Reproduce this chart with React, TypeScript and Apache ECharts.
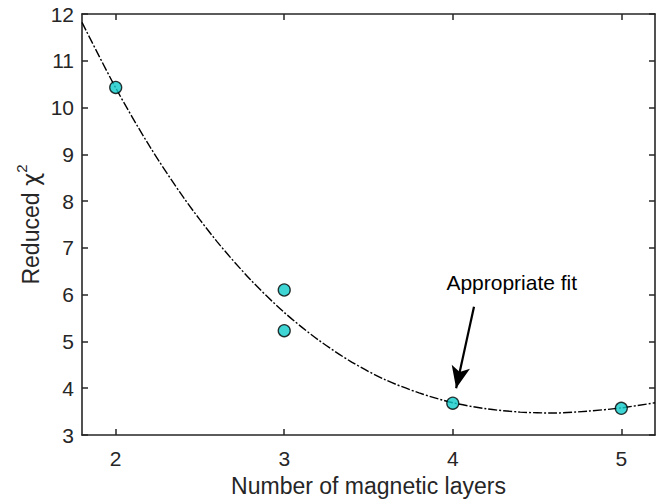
import React, { useEffect, useRef } from "react";
import * as echarts from "echarts";

// Measured data points (number of magnetic layers, reduced chi^2)
const layerCounts = [2, 3, 3, 4, 5];
const reducedChi2 = [10.43, 6.1, 5.23, 3.68, 3.57];

// Fit curve values
const fitX = [1.8, 2.0, 2.2, 2.4, 2.6, 2.8, 3.0, 3.2, 3.4, 3.6, 3.8, 4.0, 4.2, 4.4, 4.6, 4.8, 5.0, 5.2];
const fitY = [11.82, 10.42, 9.18, 8.09, 7.14, 6.32, 5.62, 5.04, 4.56, 4.18, 3.9, 3.69, 3.56, 3.49, 3.47, 3.51, 3.58, 3.69];

const xTicks = [2, 3, 4, 5];

// Annotation
const annotationText = "Appropriate fit";
const annotationPos = [4.35, 6.25];
const arrowStart = [4.126, 5.74];
const arrowEnd = [4.02, 4.0];

const FONT = "Liberation Sans, Arial, sans-serif";
const AXIS_COLOR = "#262626";

export default function App() {
  const ref = useRef<HTMLDivElement>(null);

  useEffect(() => {
    if (!ref.current) return;
    const chart = echarts.init(ref.current, undefined, { renderer: "svg" });

    const axisLine = { show: true, onZero: false, lineStyle: { color: AXIS_COLOR, width: 1.6 } };
    const tickStyle = { show: true, inside: true, length: 6, lineStyle: { color: AXIS_COLOR, width: 1.5 } };

    chart.setOption({
      animation: false,
      backgroundColor: "#ffffff",
      textStyle: { fontFamily: FONT },
      grid: { left: 82, right: 10, top: 14, bottom: 69, containLabel: false },
      xAxis: [
        {
          type: "value",
          min: 1.8,
          max: 5.2,
          position: "bottom",
          axisLine,
          axisTick: { ...tickStyle, customValues: xTicks },
          axisLabel: {
            customValues: xTicks,
            color: AXIS_COLOR,
            fontSize: 21,
            fontFamily: FONT,
            margin: 13,
          },
          splitLine: { show: false },
          name: "Number of magnetic layers",
          nameLocation: "middle",
          nameGap: 39,
          nameMoveOverlap: false,
          nameTextStyle: { color: AXIS_COLOR, fontSize: 23, fontFamily: FONT },
        },
        {
          type: "value",
          min: 1.8,
          max: 5.2,
          position: "top",
          axisLine,
          axisTick: { ...tickStyle, customValues: xTicks },
          axisLabel: { show: false },
          splitLine: { show: false },
        },
      ],
      yAxis: [
        {
          type: "value",
          min: 3,
          max: 12,
          interval: 1,
          position: "left",
          axisLine,
          axisTick: tickStyle,
          axisLabel: { color: AXIS_COLOR, fontSize: 21, fontFamily: FONT, margin: 8 },
          splitLine: { show: false },
          name: "Reduced {chi|χ}{sup|2}",
          nameLocation: "middle",
          nameRotate: 90,
          nameGap: 34,
          nameMoveOverlap: false,
          nameTextStyle: {
            color: AXIS_COLOR,
            fontSize: 23,
            fontFamily: FONT,
            lineHeight: 34,
            rich: {
              chi: { fontSize: 23, lineHeight: 34, fontFamily: "DejaVu Sans", color: AXIS_COLOR },
              sup: { fontSize: 15, lineHeight: 15, verticalAlign: "top", color: AXIS_COLOR, fontFamily: FONT },
            },
          },
        },
        {
          type: "value",
          min: 3,
          max: 12,
          interval: 1,
          position: "right",
          axisLine,
          axisTick: tickStyle,
          axisLabel: { show: false },
          splitLine: { show: false },
        },
      ],
      series: [
        {
          type: "line",
          data: fitX.map((x, i) => [x, fitY[i]]),
          showSymbol: false,
          smooth: 0.3,
          lineStyle: { color: "#000000", width: 1.4, type: [9, 2, 2, 2] },
          z: 2,
        },
        {
          type: "scatter",
          data: layerCounts.map((x, i) => [x, reducedChi2[i]]),
          symbol: "circle",
          symbolSize: 12,
          itemStyle: { color: "#0FCACA", borderColor: "#000000", borderWidth: 1.3 },
          z: 3,
          markLine: {
            silent: true,
            animation: false,
            symbol: ["none", "arrow"],
            symbolSize: [14, 22],
            label: { show: false },
            lineStyle: { color: "#000000", width: 2.2, type: "solid" },
            data: [[{ coord: arrowStart }, { coord: arrowEnd }]],
          },
          markPoint: {
            silent: true,
            symbol: "circle",
            symbolSize: 0,
            label: {
              show: true,
              position: "inside",
              formatter: annotationText,
              color: "#000000",
              fontSize: 21,
              fontFamily: FONT,
            },
            data: [{ coord: annotationPos }],
          },
        },
      ],
    });

    return () => chart.dispose();
  }, []);

  return (
    <div
      ref={ref}
      style={{ position: "absolute", left: 0, top: 0, width: 665, height: 504 }}
    />
  );
}
